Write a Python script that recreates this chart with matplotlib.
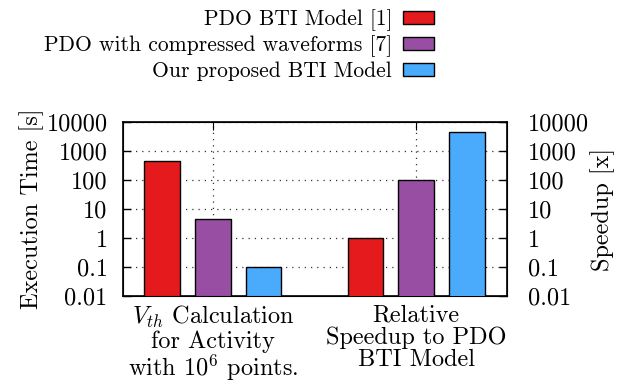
import numpy as np
import matplotlib
matplotlib.use("Agg")
import matplotlib.pyplot as plt
from matplotlib.patches import Patch

plt.rcParams['font.family'] = 'cmr10'
plt.rcParams['mathtext.fontset'] = 'cm'
plt.rcParams['axes.unicode_minus'] = False

# data
series = ["PDO BTI Model [1]", "PDO with compressed waveforms [7]", "Our proposed BTI Model"]
colors = ["#e41a1c", "#984ea3", "#4aabfd"]
exec_time = [450, 4.5, 0.1]        # execution time [s]
speedup = [1, 100, 4500]           # relative speedup [x]
groups = ["$V_{th}$ Calculation\nfor Activity\nwith $10^6$ points.",
          "Relative\nSpeedup to PDO\nBTI Model"]
ytick_vals = [0.01, 0.1, 1, 10, 100, 1000, 10000]
ytick_labels = ["0.01", "0.1", "1", "10", "100", "1000", "10000"]

FS = 17.5

fig = plt.figure(figsize=(6.24, 3.82), dpi=100)
ax = fig.add_axes([123 / 624, 1 - 296 / 382, 384 / 624, 174 / 382])
ax2 = ax.twinx()

width = 0.7
for i, c in enumerate(colors):
    ax.bar(i, exec_time[i], width=width, color=c, edgecolor="black", lw=1.0, zorder=3)
    ax2.bar(4 + i, speedup[i], width=width, color=c, edgecolor="black", lw=1.0, zorder=3)

for a in (ax, ax2):
    a.set_yscale("log")
    a.set_ylim(0.01, 10000)
    a.set_yticks(ytick_vals)
    a.set_yticklabels(ytick_labels)
    a.tick_params(axis="y", which="major", direction="in", length=6, width=1.0,
                  labelsize=FS)
    a.tick_params(axis="y", which="minor", direction="in", length=3, width=0.8)
    a.set_xlim(-0.77, 6.79)

ax.tick_params(axis="y", right=False, pad=11)
ax2.tick_params(axis="y", left=False, pad=15)

ax.set_xticks([1, 5])
ax.set_xticklabels(groups, fontsize=FS, linespacing=1.0)
ax.tick_params(axis="x", direction="in", length=6, top=True, pad=6)

# dotted grid, behind the bars
ax.grid(True, which="major", axis="both", color="#333333", linestyle=(0, (1, 4)), lw=0.9, zorder=0)
ax.set_axisbelow(True)

for sp in ax.spines.values():
    sp.set_linewidth(1.2)

ax.set_ylabel("Execution Time [s]", fontsize=FS, labelpad=2)
ax2.set_ylabel("Speedup [x]", fontsize=FS, labelpad=1)

handles = [Patch(facecolor=c, edgecolor="black", lw=1.0) for c in colors]
fig.legend(handles, series, loc="upper right", bbox_to_anchor=(434 / 624, 1 - 9 / 382),
           frameon=False, markerfirst=False, fontsize=15.5, handlelength=1.45,
           handleheight=0.56, labelspacing=0.22, handletextpad=0.5, borderpad=0.0,
           borderaxespad=0.0)

fig.savefig("out.png", dpi=100)
